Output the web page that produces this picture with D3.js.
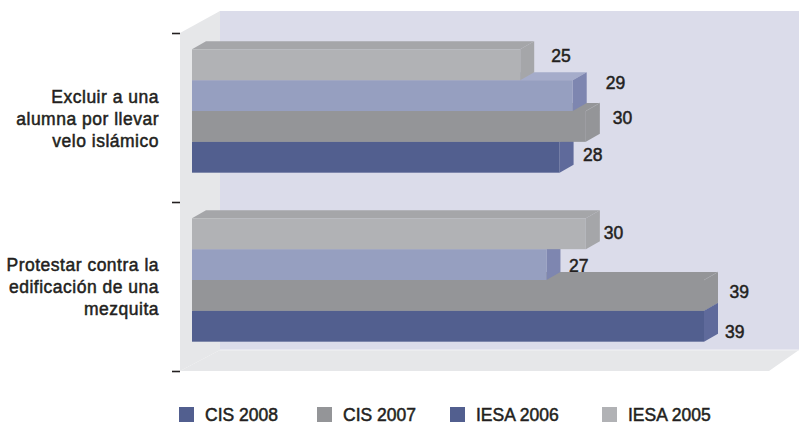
<!DOCTYPE html>
<html><head><meta charset="utf-8">
<script src="https://cdn.jsdelivr.net/npm/d3@7/dist/d3.min.js"></script>
<style>
html,body{margin:0;padding:0;background:#fff}
text{font-family:"Liberation Sans",Arial,sans-serif;font-weight:400;fill:#231f20;stroke:#231f20;stroke-width:.5px;font-size:17.5px}
text.cat{letter-spacing:.5px}
</style></head><body><svg id="c" width="799" height="424" style="display:block"></svg>
<script>
const categories = [["Excluir a una","alumna por llevar","velo islámico"],["Protestar contra la","edificación de una","mezquita"]];
const seriesNames = ["IESA 2005","IESA 2006","CIS 2007","CIS 2008"];
const iesa2005 = [25,30];
const iesa2006 = [29,27];
const cis2007 = [30,39];
const cis2008 = [28,39];
const legendOrder = ["CIS 2008","CIS 2007","IESA 2006","IESA 2005"];

const values = {"IESA 2005":iesa2005,"IESA 2006":iesa2006,"CIS 2007":cis2007,"CIS 2008":cis2008};
const front = {"IESA 2005":"#b1b2b5","IESA 2006":"#969fc0","CIS 2007":"#949598","CIS 2008":"#525f8f"};
const top_ = {"IESA 2005":"#a5a6a9","IESA 2006":"#a5acca","CIS 2007":"#949598","CIS 2008":"#5f6a9b"};
const side = {"IESA 2005":"#a5a6a9","IESA 2006":"#7e86b0","CIS 2007":"#949598","CIS 2008":"#5f6a9b"};
const legendCol = {"CIS 2008":"#525f8f","CIS 2007":"#949598","IESA 2006":"#525f8f","IESA 2005":"#b1b2b5"};
const legendX = {"CIS 2008":179,"CIS 2007":317,"IESA 2006":450,"IESA 2005":602};
// hand-placed label nudges as in the original [group][series] (dx, dy)
const nudge = [[[17,-3],[19,-7],[13,-2],[9.5,3.5]],[[4,5],[8.5,7],[11.5,2.5],[7,11.5]]];

const svg = d3.select("#c");
const dx = 14, dy = 8;
const x = d3.scaleLinear().domain([0,39]).range([192,704]);
const yAxisScale = d3.scaleLinear().domain([0,2]).range([33,371]);
const yGroup = d3.scaleBand().domain([0,1]).range([26.5,364.5]).paddingInner(0.27).paddingOuter(0.135);
const ySeries = d3.scaleBand().domain(seriesNames).range([0,yGroup.bandwidth()]);

// walls
const poly = (pts,fill)=>svg.append("polygon").attr("points",pts.map(p=>p.join(",")).join(" ")).attr("fill",fill);
poly([[220,11],[799,11],[799,350],[220,350]],"#dbdcea");
poly([[180,33],[220,11],[220,350],[180,371]],"#e6e7e9");
poly([[180,371],[220,350],[799,350],[769,371]],"#e6e7e9");
svg.append("line").attr("x1",220).attr("x2",799).attr("y1",350).attr("y2",350).attr("stroke","#f2f3f6");

// y axis ticks
const ax = svg.append("g").attr("transform","translate(180,0)").call(d3.axisLeft(yAxisScale).tickValues([0,1,2]).tickFormat("").tickSize(8).tickSizeOuter(0));
ax.select(".domain").remove();
ax.selectAll("line").attr("stroke","#231f20").attr("stroke-width",1.6);

// category labels
categories.forEach((lines,i)=>{
  const t = svg.append("text").attr("class","cat").attr("text-anchor","end");
  lines.forEach((l,j)=>t.append("tspan").attr("x",159).attr("y",[103,271][i]+j*22).text(l));
});

// value labels sit behind the bars (the "27" is cut by the bar below it)
[0,1].forEach(g=>seriesNames.forEach((s,k)=>{
  const v = values[s][g];
  svg.append("text").attr("x",x(v)+dx+nudge[g][k][0]).attr("y",yGroup(g)+ySeries(s)+ySeries.bandwidth()/2+nudge[g][k][1]).text(v);
}));

// bars, lowest first so each upper bar covers the top face of the one below
[0,1].forEach(g=>{
  seriesNames.slice().reverse().forEach(s=>{
    const v = values[s][g];
    const y0 = yGroup(g)+ySeries(s), h = ySeries.bandwidth(), x0 = x(0), x1 = x(v);
    poly([[x0,y0],[x0+dx,y0-dy],[x1+dx,y0-dy],[x1,y0]],top_[s]);
    poly([[x1,y0],[x1+dx,y0-dy],[x1+dx,y0+h-dy],[x1,y0+h]],side[s]);
    svg.append("rect").attr("x",x0).attr("y",y0).attr("width",x1-x0).attr("height",h).attr("fill",front[s]);
    if(s==="CIS 2007"){
      svg.append("line").attr("x1",x1).attr("y1",y0).attr("x2",x1+dx).attr("y2",y0-dy).attr("stroke","#a8a9ac").attr("stroke-width",0.7).attr("stroke-dasharray","2,1");
    }
  });
});

// legend
legendOrder.forEach(n=>{
  svg.append("rect").attr("x",legendX[n]).attr("y",407).attr("width",15).attr("height",15).attr("fill",legendCol[n]);
  svg.append("text").attr("x",legendX[n]+26).attr("y",421).text(n);
});
</script></body></html>
